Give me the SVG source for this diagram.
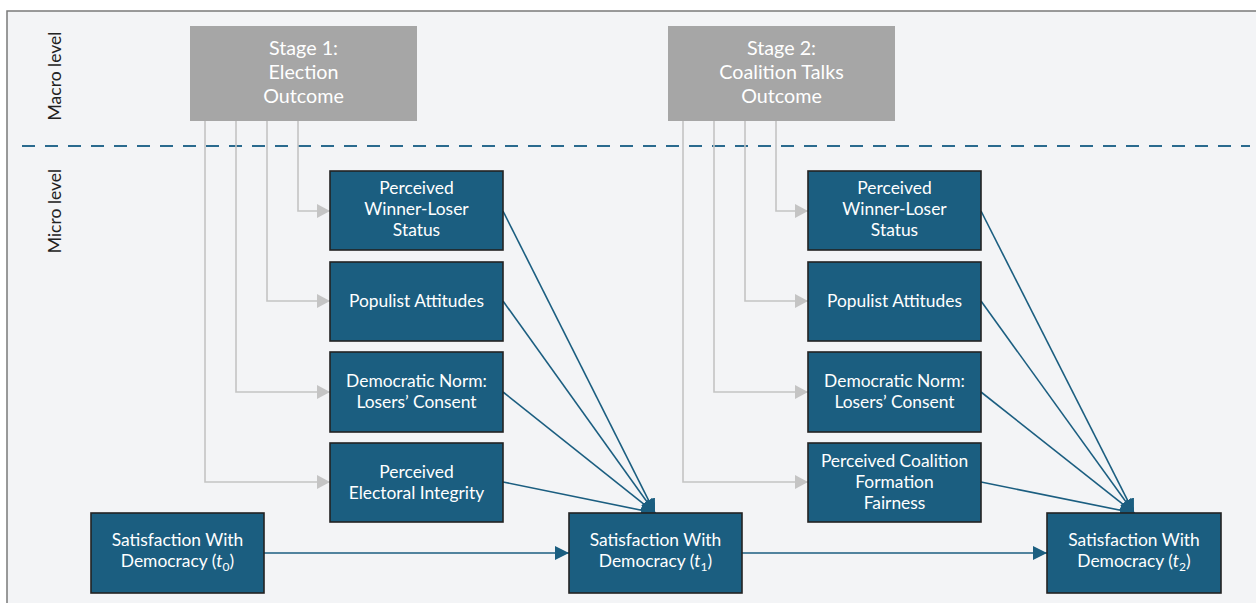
<svg xmlns="http://www.w3.org/2000/svg" width="1256" height="603" viewBox="0 0 1256 603">
  <style>
    .frame { fill: #f3f4f6; stroke: #7a7a7a; stroke-width: 1.5; }
    .stage rect { fill: #a6a6a6; }
    .stage text { fill: #ffffff; font-family: Lato, "Liberation Sans", sans-serif; font-size: 19.7px; text-anchor: middle; }
    .node rect { fill: #1b5e80; stroke: #222222; stroke-width: 1.6; }
    .node text { fill: #ffffff; font-family: Lato, "Liberation Sans", sans-serif; font-size: 17.4px; text-anchor: middle; }
    .level { fill: #222222; font-family: Lato, "Liberation Sans", sans-serif; font-size: 17.5px; text-anchor: middle; }
    .divider { stroke: #2a6a8e; stroke-width: 2; stroke-dasharray: 13 10; fill: none; }
    .grey { stroke: #c4c4c4; stroke-width: 1.6; fill: none; marker-end: url(#arrGrey); }
    .blue { stroke: #1b5e80; stroke-width: 1.6; fill: none; marker-end: url(#arrBlue); }
    .sub { font-size: 12px; }
  </style>
  <defs>
    <marker id="arrGrey" markerUnits="userSpaceOnUse" markerWidth="14" markerHeight="14" refX="13" refY="7" orient="auto">
      <path d="M0,0 L13,7 L0,14 z" fill="#c4c4c4"/>
    </marker>
    <marker id="arrBlue" markerUnits="userSpaceOnUse" markerWidth="15" markerHeight="14" refX="14" refY="7" orient="auto">
      <path d="M0,0 L14,7 L0,14 z" fill="#1b5e80"/>
    </marker>
  </defs>

  <!-- background panel -->
  <rect x="0" y="0" width="1256" height="603" fill="#ffffff"/>
  <path class="frame" d="M1260,11 L7,11 L7,610 L1260,610 Z"/>

  <!-- level labels and divider -->
  <text class="level" transform="translate(61,76) rotate(-90)">Macro level</text>
  <text class="level" transform="translate(61,211) rotate(-90)">Micro level</text>
  <line class="divider" x1="22" y1="146" x2="1250" y2="146"/>

  <!-- connectors -->
  <g id="connectors">
    <path class="grey" d="M298,121 V211 H330"/>
    <path class="grey" d="M267,121 V301 H330"/>
    <path class="grey" d="M236,121 V392 H330"/>
    <path class="grey" d="M205,121 V482 H330"/>
    <path class="grey" d="M776,121 V211 H808"/>
    <path class="grey" d="M745,121 V301 H808"/>
    <path class="grey" d="M714,121 V392 H808"/>
    <path class="grey" d="M683,121 V482 H808"/>

    <path class="blue" d="M503,211 L655,513"/>
    <path class="blue" d="M503,301 L655,513"/>
    <path class="blue" d="M503,392 L655,513"/>
    <path class="blue" d="M503,482 L655,513"/>
    <path class="blue" d="M981,211 L1134,513"/>
    <path class="blue" d="M981,301 L1134,513"/>
    <path class="blue" d="M981,392 L1134,513"/>
    <path class="blue" d="M981,482 L1134,513"/>

    <path class="blue" d="M264,553 H569"/>
    <path class="blue" d="M742,553 H1047"/>
  </g>

  <!-- macro-level stages -->
  <g id="stage1" class="stage">
    <rect x="190" y="26" width="227" height="95"/>
    <text x="303.5" y="55">Stage 1:</text>
    <text x="303.5" y="79">Election</text>
    <text x="303.5" y="103">Outcome</text>
  </g>
  <g id="stage2" class="stage">
    <rect x="668" y="26" width="227" height="95"/>
    <text x="781.5" y="55">Stage 2:</text>
    <text x="781.5" y="79">Coalition Talks</text>
    <text x="781.5" y="103">Outcome</text>
  </g>

  <!-- stage 1 mediators -->
  <g id="winnerLoser1" class="node">
    <rect x="330" y="171" width="173" height="79"/>
    <text x="416.5" y="194">Perceived</text>
    <text x="416.5" y="215">Winner-Loser</text>
    <text x="416.5" y="236">Status</text>
  </g>
  <g id="populist1" class="node">
    <rect x="330" y="262" width="173" height="79"/>
    <text x="416.5" y="307">Populist Attitudes</text>
  </g>
  <g id="norm1" class="node">
    <rect x="330" y="352" width="173" height="80"/>
    <text x="416.5" y="387">Democratic Norm:</text>
    <text x="416.5" y="408">Losers’ Consent</text>
  </g>
  <g id="integrity1" class="node">
    <rect x="330" y="443" width="173" height="79"/>
    <text x="416.5" y="478">Perceived</text>
    <text x="416.5" y="499">Electoral Integrity</text>
  </g>

  <!-- stage 2 mediators -->
  <g id="winnerLoser2" class="node">
    <rect x="808" y="171" width="173" height="79"/>
    <text x="894.5" y="194">Perceived</text>
    <text x="894.5" y="215">Winner-Loser</text>
    <text x="894.5" y="236">Status</text>
  </g>
  <g id="populist2" class="node">
    <rect x="808" y="262" width="173" height="79"/>
    <text x="894.5" y="307">Populist Attitudes</text>
  </g>
  <g id="norm2" class="node">
    <rect x="808" y="352" width="173" height="80"/>
    <text x="894.5" y="387">Democratic Norm:</text>
    <text x="894.5" y="408">Losers’ Consent</text>
  </g>
  <g id="fairness2" class="node">
    <rect x="808" y="443" width="173" height="79"/>
    <text x="894.5" y="467">Perceived Coalition</text>
    <text x="894.5" y="488">Formation</text>
    <text x="894.5" y="509">Fairness</text>
  </g>

  <!-- satisfaction with democracy over time -->
  <g id="swd0" class="node">
    <rect x="91" y="513" width="173" height="80"/>
    <text x="177.5" y="546">Satisfaction With</text>
    <text x="177.5" y="567">Democracy (<tspan font-style="italic">t</tspan><tspan class="sub" dy="4">0</tspan><tspan dy="-4">)</tspan></text>
  </g>
  <g id="swd1" class="node">
    <rect x="569" y="513" width="173" height="80"/>
    <text x="655.5" y="546">Satisfaction With</text>
    <text x="655.5" y="567">Democracy (<tspan font-style="italic">t</tspan><tspan class="sub" dy="4">1</tspan><tspan dy="-4">)</tspan></text>
  </g>
  <g id="swd2" class="node">
    <rect x="1047" y="513" width="174" height="80"/>
    <text x="1134" y="546">Satisfaction With</text>
    <text x="1134" y="567">Democracy (<tspan font-style="italic">t</tspan><tspan class="sub" dy="4">2</tspan><tspan dy="-4">)</tspan></text>
  </g>
</svg>
